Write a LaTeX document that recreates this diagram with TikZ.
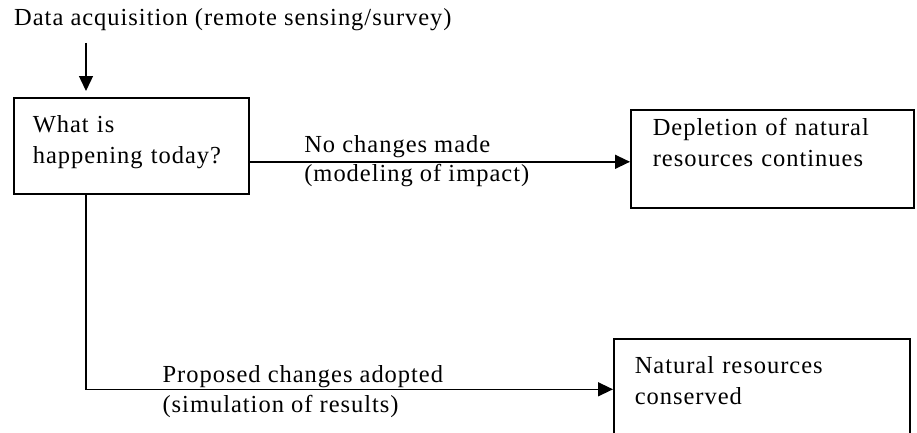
\documentclass[tikz,border=0pt]{standalone}
\usepackage{fontspec}
\setmainfont{Liberation Serif}[LetterSpace=4]
\usetikzlibrary{arrows.meta}
\tikzset{
  >={Triangle[length=15pt,width=14pt]},
  bx/.style  ={draw, line width=1.6pt, anchor=north west, inner ysep=0pt, align=left,
               font=\fontsize{24.5}{30.5}\selectfont},
  tx/.style  ={inner sep=0pt, anchor=base west, font=\fontsize{24.5}{26}\selectfont},
  flow/.style={->, line width=1.4pt}
}
\begin{document}
\begin{tikzpicture}[x=1pt, y=-1pt]
\clip (0,0) rectangle (917,432);
\node[tx] (src) at (14,25) {Data acquisition (remote sensing/survey)};
% the three stages
\node[bx, inner xsep=19pt, text width=197pt, text height=35pt, text depth=61pt] (now) at (13,97)
  {What is\\happening today?};
\node[bx, inner xsep=22pt, text width=239pt, text height=26pt, text depth=72pt] (loss) at (630,109)
  {Depletion of natural\\resources continues};
\node[bx, inner xsep=21pt, text width=254pt, text height=35pt, text depth=63pt] (kept) at (613,338)
  {Natural resources\\conserved};
\coordinate (spine) at (86,0);
\draw[flow, shorten <=12.5pt, shorten >=6pt] (src.south -| spine) -- (now.north -| spine);
% no changes
\draw[flow] ([yshift=-3pt]loss.west -| now.east) --
  node[tx, pos=0.142, yshift=9pt] (nochg) {No changes made}
  node[tx, pos=0.142, yshift=-20pt] (model) {(modeling of impact)}
  ([yshift=-3pt]loss.west);
% proposed changes
\draw[flow] (now.south -| spine) |-
  node[tx, pos=0.572, yshift=7pt] (adopt) {Proposed changes adopted}
  node[tx, pos=0.572, yshift=-23pt] (simul) {(simulation of results)}
  ([yshift=-1.5pt]kept.west);
\end{tikzpicture}
\end{document}
